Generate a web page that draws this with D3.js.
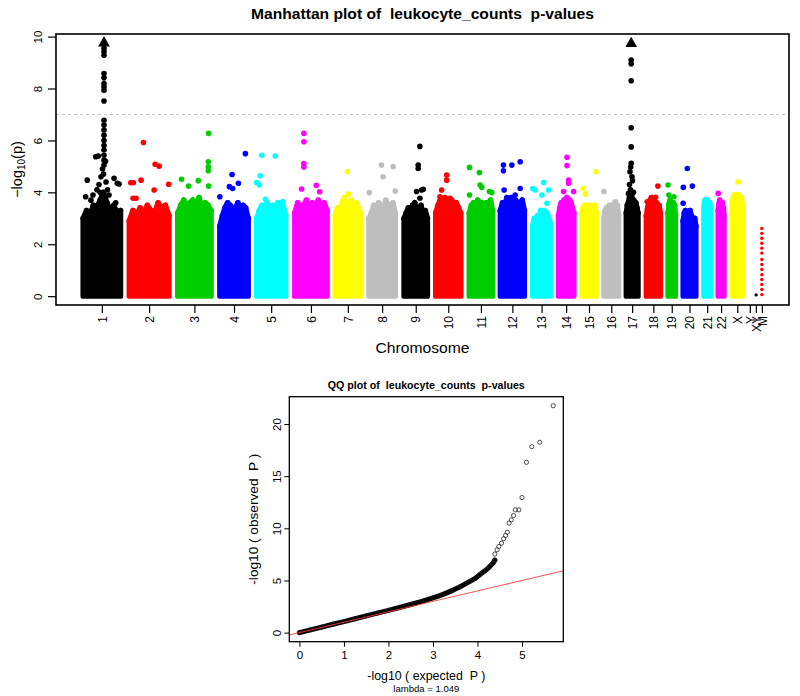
<!DOCTYPE html>
<html>
<head>
<meta charset="utf-8">
<script src="https://cdn.jsdelivr.net/npm/d3@7"></script>
<style>
  body { margin: 0; background: #fff; }
  svg { display: block; }
  text { font-family: "Liberation Sans", Arial, Helvetica, sans-serif; white-space: pre; }
</style>
</head>
<body>
<svg id="chart" width="800" height="696"></svg>
<script>
// ---------------- DATA ----------------
const chromosomes = ["1","2","3","4","5","6","7","8","9","10","11","12","13","14","15","16","17","18","19","20","21","22","X","Y","XY","M"];
// cumulative position (index units) of first / last SNP of each chromosome
const chrStart = [4.2,50.2,98.5,140.5,177.2,215.2,255.5,289.2,324.2,355.8,389.2,420.2,452.5,478.2,501.5,523.5,545.8,565.8,587.5,602.5,623.2,637.5,651.5,669,675,681];
const chrEnd   = [41.5,89.8,131.8,168.8,206.2,247.5,280.8,315.5,347.5,380.8,412.5,444.2,470.2,493.5,515.8,538.2,557.5,579.8,594.8,615.2,629.8,643.2,661.5,669,675,681];
const chrPalette = ["#000000","#FF0000","#00CD00","#0000FF","#00FFFF","#FF00FF","#FFFF00","#BEBEBE"];

// upper envelope (-log10 p) of the dense bulk of SNPs, evenly spread across each chromosome
const denseTop = [
  [3.0,3.3,3.1,3.5,3.4,3.7,4.0,3.6,3.3,3.5,3.2,3.3],
  [2.9,3.3,3.1,3.4,3.2,3.5,3.3,3.2,3.6,3.4,3.5,3.1],
  [3.2,3.5,3.7,3.4,3.6,3.7,3.5,3.8,3.4,3.6,3.5,3.3],
  [2.7,3.1,3.4,3.6,3.5,3.3,3.4,3.6,3.3,3.5,3.4,3.0],
  [3.0,3.3,3.5,3.4,3.6,3.3,3.5,3.4,3.6,3.3,3.5,3.1],
  [3.2,3.6,3.4,3.5,3.7,3.4,3.6,3.5,3.7,3.4,3.6,3.3],
  [3.1,3.4,3.3,3.6,3.8,3.6,3.5,3.7,3.4,3.6,3.4,3.2],
  [3.0,3.2,3.5,3.3,3.6,3.4,3.3,3.7,3.5,3.4,3.6,3.2],
  [3.0,3.2,3.4,3.1,3.5,3.6,3.3,3.2,3.5,3.1,3.3,3.0],
  [3.2,3.5,3.7,3.5,3.8,3.5,3.6,3.7,3.4,3.6,3.4,3.2],
  [3.2,3.5,3.6,3.4,3.7,3.5,3.6,3.4,3.6,3.5,3.7,3.3],
  [3.3,3.6,3.5,3.8,3.6,3.8,3.5,3.7,3.6,3.5,3.7,3.3],
  [2.7,3.0,2.9,3.1,3.0,3.3,3.0,3.3,3.1,3.2,3.0,2.8],
  [3.1,3.4,3.6,3.5,3.7,3.6,3.8,3.5,3.7,3.6,3.4,3.2],
  [3.2,3.4,3.5,3.4,3.5,3.3,3.4,3.5,3.4,3.3,3.5,3.2],
  [3.0,3.3,3.4,3.2,3.5,3.3,3.4,3.5,3.6,3.4,3.5,3.1],
  [3.2,3.5,3.6,3.8,3.7,3.9,3.6,3.7,3.5,3.6,3.4,3.2],
  [3.1,3.4,3.6,3.7,3.8,3.6,3.7,3.5,3.6,3.4,3.5,3.2],
  [3.2,3.5,3.6,3.7,3.5,3.6,3.4,3.5,3.6,3.4,3.5,3.1],
  [2.9,3.2,3.3,3.1,3.0,3.2,3.3,3.1,3.0,2.9,3.0,2.7],
  [3.4,3.6,3.7,3.6,3.7,3.6,3.7,3.5,3.6,3.5,3.6,3.3],
  [3.3,3.5,3.6,3.7,3.6,3.5,3.4,3.5,3.6,3.3,3.4,3.1],
  [3.6,3.8,3.9,3.8,3.9,3.7,3.8,3.9,3.8,3.7,3.8,3.5],
  [], [], []
];

// individual SNPs standing out above the bulk
const hitChrom = [
  "1","1","1","1","1","1","1","1","1","1","1","1","1","1","1","1","1","1","1","1",
  "1","1","1","1","1","1","1","1","1","1","1","1","1","1","1","1","1","1","1",
  "2","2","2","2","2","2","2","2","2","2",
  "3","3","3","3","3","3","3","3",
  "4","4","4","4","4","4",
  "5","5","5","5","5","5","5",
  "6","6","6","6","6","6","6",
  "7","7",
  "8","8","8","8","8",
  "9","9","9","9","9","9","9",
  "10","10","10","10","10",
  "11","11","11","11","11","11","11",
  "12","12","12","12","12","12","12",
  "13","13","13","13","13","13",
  "14","14","14","14","14","14",
  "15","15","15",
  "16","16",
  "17","17","17","17","17","17","17","17","17","17","17","17","17","17",
  "18","18","18",
  "19","19","19",
  "20","20","20","20",
  "22","22",
  "X","X",
  "XY",
  "M","M","M","M","M","M","M","M","M","M","M","M","M","M"
];
const hitPos = [
  16.7,19.3,8.3,35,38.3,6.7,36.7,40,20,22,23.5,26.5,21,27,18,14,30,12,28.5,24.5,
  25,25,25,25,25,25,25,25,25,25,25,25,25,25,25,25,25,25,25,
  64.3,76,80,51.7,54.3,62,89.5,54,75,57,
  129.3,129,129,129,102.3,109.3,119,129.3,
  166,152.7,159,150,153.3,140.5,
  182.3,195.7,180.7,177.2,180,186,203.3,
  224.3,224.3,224.3,224.3,222,236.7,240,
  267.7,268.7,
  301.7,313.3,303.3,289.5,315.5,
  340,338.3,338.3,336.7,341.7,343.3,340,
  366.7,366.7,361.7,370,360,
  389.5,399.3,400,401.7,389.5,409.3,411.7,
  423.3,423.3,431.7,440,424,440,435,
  452.5,455,463.3,461.7,468.3,466.7,
  486.7,486.7,488.3,488.3,483.3,493.3,
  515.5,502.7,505,
  523.5,535,
  550.7,550.7,550.7,550.7,550.7,550.7,550.2,549.5,551.5,549,552,550,548,553,
  577.3,575,566.7,
  587.5,588.3,593.3,
  606.7,602.7,611.7,602.5,
  637.5,640,
  657.3,653.3,
  675.3,
  681,681,681,681,681,681,681,681,681,681,681,681,681,681
];
const hitLogP = [
  5.37,5.40,4.47,4.54,4.35,3.83,3.60,4.32,4.30,4.60,4.90,5.20,4.00,4.40,4.10,3.90,3.90,3.70,4.10,4.70,
  9.55,9.42,9.28,8.58,8.41,8.19,8.06,7.93,7.52,6.78,6.59,6.40,6.20,6.00,5.80,5.63,5.43,5.24,5.05,
  5.92,5.08,5.01,4.37,4.37,4.47,4.31,3.77,4.09,3.77,
  6.27,5.18,4.98,4.83,4.50,4.24,4.45,4.24,
  5.49,4.69,4.35,4.22,4.15,3.83,
  5.43,5.40,4.64,4.38,4.28,3.73,3.65,
  6.27,5.95,5.11,4.98,4.13,4.27,4.02,
  4.79,3.93,
  5.05,4.99,4.60,3.99,4.05,
  5.77,5.05,4.92,4.03,4.09,4.12,3.77,
  4.67,4.47,4.09,3.77,3.83,
  4.96,4.76,4.28,4.19,3.90,4.03,3.99,
  5.05,4.83,5.05,5.18,4.09,4.15,3.90,
  4.15,4.09,4.38,3.90,4.09,3.58,
  5.35,5.03,4.47,4.35,4.03,4.03,
  4.79,4.15,3.94,
  4.03,3.64,
  9.10,8.95,8.30,6.49,5.75,5.12,4.98,4.79,4.60,4.30,4.45,4.10,3.95,4.00,
  4.24,3.81,3.64,
  4.28,3.90,3.83,
  4.92,4.19,4.24,3.58,
  3.96,3.58,
  4.41,3.86,
  0.05,
  2.61,2.42,2.23,2.04,1.85,1.66,1.41,1.22,1.03,0.83,0.64,0.45,0.26,0.06
];
// SNPs beyond the plotted range, drawn as triangles at the top
const cappedChrom = ["1","17"];
const cappedPos = [25,550.7];
const cappedLogP = [9.75,9.73];

const manhattanYTicks = [0,2,4,6,8,10];
const manhattanYLim = [-0.34,10.1];
const significanceLine = 7;

// QQ plot
const qqExpected = [0,0.25,0.5,0.75,1.0,1.25,1.5,1.75,2.0,2.25,2.5,2.75,3.0,3.2,3.4,3.6,3.83,3.95,4.05,4.12,4.2,4.28,4.35,4.39];
const qqObserved = [0,0.27,0.53,0.8,1.06,1.33,1.6,1.87,2.14,2.41,2.7,3.0,3.33,3.62,3.98,4.38,4.91,5.2,5.55,5.78,6.03,6.35,6.67,6.95];
const qqTailExpected = [4.39,4.44,4.48,4.54,4.59,4.63,4.67,4.71,4.76,4.81,4.85,4.93,5.0,5.1,5.22,5.40,5.70];
const qqTailObserved = [7.53,7.94,8.26,8.58,9.0,9.31,9.63,10.5,10.81,11.23,11.77,11.77,12.95,16.33,17.83,18.25,21.75];
const qqXTicks = [0,1,2,3,4,5];
const qqYTicks = [0,5,10,15,20];
const lambdaValue = 1.049;
const traitName = "leukocyte_counts";

// ---------------- DRAW ----------------
const svg = d3.select("#chart");
const FONT = '"Liberation Sans", Arial, Helvetica, sans-serif';

// ===== Manhattan =====
const M = {left:56, right:789, top:34, bottom:305};
const posMin = d3.min(chrStart), posMax = d3.max(chrEnd);
const padX = (posMax - posMin) * 0.04;
const x = d3.scaleLinear().domain([posMin - padX, posMax + padX]).range([M.left, M.right]);
const y = d3.scaleLinear().domain(manhattanYLim).range([M.bottom, M.top]);
const colorOf = c => chrPalette[chromosomes.indexOf(c) % chrPalette.length];

const mg = svg.append("g");

// significance line
mg.append("line")
  .attr("x1", M.left).attr("x2", M.right)
  .attr("y1", y(significanceLine)).attr("y2", y(significanceLine))
  .attr("stroke", "#c4c4c4").attr("stroke-width", 1).attr("stroke-dasharray", "3,3");

// dense bulk
const area = d3.area().x(d => x(d[0])).y0(y(0)).y1(d => y(d[1]));
chromosomes.forEach((c, i) => {
  const tops = denseTop[i];
  if (!tops || !tops.length) return;
  const n = tops.length;
  const pts = tops.map((t, k) => [chrStart[i] + k * (chrEnd[i] - chrStart[i]) / (n - 1), t]);
  const col = colorOf(c);
  mg.append("path").attr("d", area(pts))
    .attr("fill", col).attr("stroke", col).attr("stroke-width", 5.4).attr("stroke-linejoin", "round");
  mg.append("g").selectAll("circle").data(pts).join("circle")
    .attr("cx", d => x(d[0])).attr("cy", d => y(d[1])).attr("r", 2.8).attr("fill", col);
});

// individual hits
const hits = hitChrom.map((c, i) => ({c, p: hitPos[i], v: hitLogP[i]}));
mg.append("g").selectAll("circle").data(hits).join("circle")
  .attr("cx", d => x(d.p)).attr("cy", d => y(d.v))
  .attr("r", d => (d.c === "M" || d.c === "XY") ? 1.7 : 2.8)
  .attr("fill", d => colorOf(d.c));

// capped (triangles)
const capped = cappedChrom.map((c, i) => ({c, p: cappedPos[i], v: cappedLogP[i]}));
mg.append("g").selectAll("path").data(capped).join("path")
  .attr("d", d3.symbol(d3.symbolTriangle).size(60))
  .attr("transform", d => `translate(${x(d.p)},${y(d.v)})`)
  .attr("fill", d => colorOf(d.c));

// box
mg.append("rect").attr("x", M.left).attr("y", M.top)
  .attr("width", M.right - M.left).attr("height", M.bottom - M.top)
  .attr("fill", "none").attr("stroke", "#000").attr("stroke-width", 1.6);

// y axis
const yAxis = mg.append("g").attr("transform", `translate(${M.left},0)`)
  .call(d3.axisLeft(y).tickValues(manhattanYTicks).tickSize(8).tickSizeOuter(0));
yAxis.select(".domain").remove();
yAxis.selectAll("line").attr("stroke", "#000").attr("stroke-width", 1.2);
yAxis.selectAll("text")
  .attr("x", null).attr("dy", "0.35em")
  .attr("transform", "translate(-18.5,0) rotate(-90)")
  .attr("text-anchor", "middle")
  .attr("font-size", 11.5).attr("font-family", FONT).attr("fill", "#000");

// x axis at chromosome midpoints
const chrMid = chromosomes.map((c, i) => (chrStart[i] + chrEnd[i]) / 2);
const xAxis = mg.append("g").attr("transform", `translate(0,${M.bottom})`)
  .call(d3.axisBottom(x).tickValues(chrMid).tickSize(8).tickSizeOuter(0)
    .tickFormat((d, i) => chromosomes[i]));
xAxis.select(".domain").remove();
xAxis.selectAll("line").attr("stroke", "#000").attr("stroke-width", 1.2);
xAxis.selectAll("text")
  .attr("y", null).attr("dy", "0.35em")
  .attr("transform", "translate(0,11) rotate(-90)")
  .attr("text-anchor", "end")
  .attr("font-size", 12).attr("font-family", FONT).attr("fill", "#000");

// titles / labels
svg.append("text").attr("x", (M.left + M.right) / 2).attr("y", 19)
  .attr("text-anchor", "middle").attr("font-weight", "bold").attr("font-size", 14.5)
  .attr("textLength", 343).attr("lengthAdjust", "spacingAndGlyphs")
  .text(`Manhattan plot of  ${traitName}  p-values`);

svg.append("text").attr("x", (M.left + M.right) / 2).attr("y", 353)
  .attr("text-anchor", "middle").attr("font-size", 14.5)
  .attr("textLength", 94).attr("lengthAdjust", "spacingAndGlyphs")
  .text("Chromosome");

const ylab = svg.append("text")
  .attr("transform", `translate(21.5,${(M.top + M.bottom) / 2}) rotate(-90)`)
  .attr("text-anchor", "middle").attr("font-size", 14.5);
ylab.append("tspan").text("\u2212log");
ylab.append("tspan").attr("font-size", 10).attr("dy", 3).text("10");
ylab.append("tspan").attr("dy", -3).text("(p)");

// ===== QQ plot =====
const Q = {left:289.3, right:563.3, top:396.7, bottom:641.7};
const allQX = qqExpected.concat(qqTailExpected), allQY = qqObserved.concat(qqTailObserved);
const qxMin = d3.min(allQX), qxMax = d3.max(allQX), qyMin = d3.min(allQY), qyMax = d3.max(allQY);
const qx = d3.scaleLinear().domain([qxMin - 0.04 * (qxMax - qxMin), qxMax + 0.04 * (qxMax - qxMin)]).range([Q.left, Q.right]);
const qy = d3.scaleLinear().domain([qyMin - 0.04 * (qyMax - qyMin), qyMax + 0.04 * (qyMax - qyMin)]).range([Q.bottom, Q.top]);

svg.append("clipPath").attr("id", "qqclip").append("rect")
  .attr("x", Q.left).attr("y", Q.top).attr("width", Q.right - Q.left).attr("height", Q.bottom - Q.top);
const qg = svg.append("g");
const qpts = qqExpected.map((e, i) => [e, qqObserved[i]]);
const qtail = qqTailExpected.map((e, i) => [e, qqTailObserved[i]]);

qg.append("path").attr("d", d3.line().x(d => qx(d[0])).y(d => qy(d[1]))(qpts))
  .attr("fill", "none").attr("stroke", "#000").attr("stroke-width", 5).attr("stroke-linecap", "round").attr("stroke-linejoin", "round");
qg.append("g").selectAll("circle").data(qpts.concat(qtail)).join("circle")
  .attr("cx", d => qx(d[0])).attr("cy", d => qy(d[1])).attr("r", 2.1)
  .attr("fill", "none").attr("stroke", "#222").attr("stroke-width", 0.8);

// expected line y = x
const dmn = qx.domain();
qg.append("line").attr("clip-path", "url(#qqclip)")
  .attr("x1", qx(dmn[0])).attr("y1", qy(dmn[0]))
  .attr("x2", qx(dmn[1])).attr("y2", qy(dmn[1]))
  .attr("stroke", "#f03c3c").attr("stroke-width", 0.9);

qg.append("rect").attr("x", Q.left).attr("y", Q.top)
  .attr("width", Q.right - Q.left).attr("height", Q.bottom - Q.top)
  .attr("fill", "none").attr("stroke", "#000").attr("stroke-width", 1.3);

const qxAxis = qg.append("g").attr("transform", `translate(0,${Q.bottom})`)
  .call(d3.axisBottom(qx).tickValues(qqXTicks).tickSize(5).tickSizeOuter(0).tickFormat(d3.format("d")));
qxAxis.select(".domain").remove();
qxAxis.selectAll("line").attr("stroke", "#000");
qxAxis.selectAll("text").attr("y", 17.5).attr("dy", 0)
  .attr("font-size", 11.5).attr("font-family", FONT).attr("fill", "#000");

const qyAxis = qg.append("g").attr("transform", `translate(${Q.left},0)`)
  .call(d3.axisLeft(qy).tickValues(qqYTicks).tickSize(5).tickSizeOuter(0).tickFormat(d3.format("d")));
qyAxis.select(".domain").remove();
qyAxis.selectAll("line").attr("stroke", "#000");
qyAxis.selectAll("text")
  .attr("x", null).attr("dy", "0.35em")
  .attr("transform", "translate(-12,0) rotate(-90)")
  .attr("text-anchor", "middle")
  .attr("font-size", 11.5).attr("font-family", FONT).attr("fill", "#000");

const qcx = (Q.left + Q.right) / 2;
svg.append("text").attr("x", qcx).attr("y", 389)
  .attr("text-anchor", "middle").attr("font-weight", "bold").attr("font-size", 10.5)
  .attr("textLength", 197).attr("lengthAdjust", "spacingAndGlyphs")
  .text(`QQ plot of  ${traitName}  p-values`);
svg.append("text").attr("x", qcx).attr("y", 679.5)
  .attr("text-anchor", "middle").attr("font-size", 12.5)
  .attr("textLength", 118).attr("lengthAdjust", "spacingAndGlyphs")
  .text("-log10 ( expected  P )");
svg.append("text")
  .attr("transform", `translate(258,${(Q.top + Q.bottom) / 2}) rotate(-90)`)
  .attr("text-anchor", "middle").attr("font-size", 13)
  .attr("textLength", 131).attr("lengthAdjust", "spacingAndGlyphs")
  .text("-log10 ( observed  P )");
svg.append("text").attr("x", qcx).attr("y", 692)
  .attr("text-anchor", "middle").attr("font-size", 8.5)
  .attr("textLength", 66).attr("lengthAdjust", "spacingAndGlyphs")
  .text(`lambda = ${lambdaValue}`);
</script>
</body>
</html>
